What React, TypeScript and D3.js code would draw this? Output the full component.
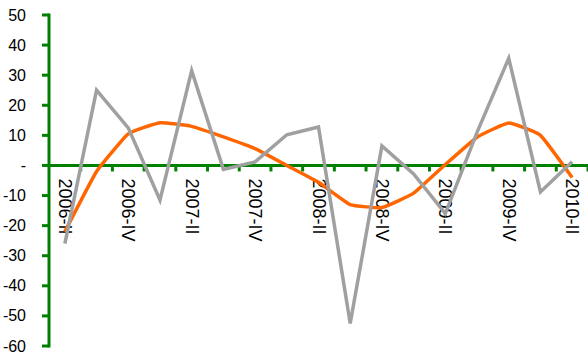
import React from "react";
import * as d3 from "d3";

const categories = [
  "2006-II", "2006-III", "2006-IV",
  "2007-I", "2007-II", "2007-III", "2007-IV",
  "2008-I", "2008-II", "2008-III", "2008-IV",
  "2009-I", "2009-II", "2009-III", "2009-IV",
  "2010-I", "2010-II",
];
const trendSeries = [-22, -2, 10.5, 14.2, 13, 9.5, 5.6, 0, -5.6, -13, -14, -9.2, 0.3, 9.4, 14.1, 10, -4];
const rawSeries = [-26, 25, 12.5, -11.5, 31.5, -1.3, 1.2, 10.2, 12.8, -52.5, 6.5, -2.8, -16, 11, 35.6, -8.8, 1.2];
const yTicks = [50, 40, 30, 20, 10, 0, -10, -20, -30, -40, -50, -60];

const W = 588;
const H = 355;
const left = 49;
const right = 588;
const top = 15;
const bottom = 346;
const green = "#008000";

export default function App() {
  const x = d3.scaleBand<string>().domain(categories).range([left, right]).padding(0);
  const y = d3.scaleLinear().domain([-60, 50]).range([bottom, top]);
  const cx = (c: string) => (x(c) as number) + x.bandwidth() / 2;

  const trendLine = d3
    .line<number>()
    .x((_, i) => cx(categories[i]))
    .y((d) => y(d))
    .curve(d3.curveCardinal.tension(0.65));
  const rawLine = d3
    .line<number>()
    .x((_, i) => cx(categories[i]))
    .y((d) => y(d));

  const y0 = y(0);
  const boundaries = categories.map((c) => (x(c) as number) + x.bandwidth());

  return (
    <svg
      width={W}
      height={H}
      style={{ position: "absolute", left: 0, top: 0, background: "#fff" }}
      fontFamily="'Liberation Sans', Arial, sans-serif"
    >
      {/* Y axis */}
      <line x1={left} x2={left} y1={y(50) - 1.5} y2={y(-60) + 1.5} stroke={green} strokeWidth={3} />
      {yTicks.map((t) => (
        <g key={t}>
          <line x1={left - 7} x2={left} y1={y(t)} y2={y(t)} stroke={green} strokeWidth={3} />
          <text
            x={26}
            y={y(t)}
            textAnchor="end"
            dominantBaseline="central"
            fontSize={16}
            fill="#000"
          >
            {t === 0 ? "-" : String(t)}
          </text>
        </g>
      ))}
      {/* X axis */}
      <line x1={left} x2={right} y1={y0} y2={y0} stroke={green} strokeWidth={3} />
      {boundaries.map((b, i) => (
        <line key={i} x1={b} x2={b} y1={y0} y2={y0 + 6} stroke={green} strokeWidth={3} />
      ))}
      {categories.map((c, i) =>
        i % 2 === 0 ? (
          <text
            key={c}
            transform={`translate(${cx(c)},${y0 + 13}) rotate(90)`}
            textAnchor="start"
            dominantBaseline="central"
            fontSize={18}
            fill="#000"
          >
            {c}
          </text>
        ) : null
      )}
      {/* Series */}
      <path d={trendLine(trendSeries) || ""} fill="none" stroke="#FF6600" strokeWidth={3.5} />
      <path d={rawLine(rawSeries) || ""} fill="none" stroke="#A0A0A0" strokeWidth={3.5} />
    </svg>
  );
}
